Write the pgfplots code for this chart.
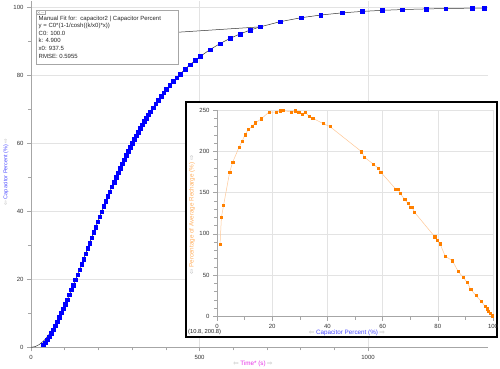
\documentclass[border=0pt]{standalone}
\usepackage{pgfplots}
\pgfplotsset{compat=1.18}
\usepackage{fontspec}
\setmainfont{Liberation Sans}
\newfontfamily\dejavu{DejaVu Sans}
\definecolor{lblblue}{RGB}{77,77,255}
\definecolor{lblorange}{RGB}{255,176,96}
\definecolor{lblmag}{RGB}{230,50,230}
\definecolor{dorange}{RGB}{255,128,0}
\definecolor{lorange}{RGB}{255,200,150}
\newcommand{\arl}{{\dejavu\color{gray!60}⇦}}
\newcommand{\arr}{{\dejavu\color{gray!60}⇨}}
\begin{document}
\begin{tikzpicture}
\useasboundingbox (0,0) rectangle (500pt,368pt);
\begin{axis}[
  at={(31pt,20.7pt)}, anchor=south west, scale only axis,
  width=457pt, height=346pt,
  xmin=0, xmax=1356, ymin=0, ymax=101.8,
  axis x line*=bottom, axis y line*=left,
  axis line style={draw=gray!70, line width=0.6pt},
  xtick={0,500,1000}, ytick={0,20,40,60,80,100},
  minor x tick num=4, minor y tick num=1,
  tick align=outside, major tick length=4pt, minor tick length=3pt,
  tick style={gray!70, line width=0.5pt},
  grid=major, major grid style={gray!22, line width=0.5pt},
  ticklabel style={font=\fontsize{6}{7}\selectfont, text=black!80},
  /pgf/number format/assume math mode=true,
  /pgf/number format/set thousands separator={},
  clip=false
]
\addplot[gray!40!black, line width=0.5pt] coordinates {
(0,0)(12,0.20)(24,0.78)(36,1.74)(42,2.36)(48,3.07)(54,3.85)(60,4.72)(66,5.67)(72,6.69)(78,7.77)
(84,8.92)(90,10.13)(96,11.39)(102,12.70)(108,14.06)(114,15.46)(120,16.89)(126,18.35)(132,19.85)(138,21.36)(144,22.89)(150,24.44)(156,25.99)(162,27.56)(168,29.12)(174,30.69)(180,32.26)(186,33.82)(192,35.37)(198,36.91)(204,38.44)(210,39.95)(216,41.45)(222,42.93)(228,44.39)(234,45.83)(240,47.24)(246,48.64)(252,50.01)(258,51.35)(264,52.67)(270,53.97)(276,55.24)(282,56.48)(288,57.69)(294,58.88)(300,60.04)(306,61.18)(312,62.29)(318,63.37)(324,64.43)(330,65.46)(336,66.46)(342,67.44)(348,68.39)(354,69.32)(362,70.52)(370,71.67)(378,72.79)(386,73.86)(394,74.90)(402,75.90)(412,77.09)(422,78.23)(432,79.31)(442,80.35)(457,81.80)(472,83.15)(487,84.41)(502,85.57)(531,87.58)(561,89.37)(591,90.91)(620,92.18)(650,93.32)(680,94.28)(739,95.80)(801,96.96)(860,97.77)(923,98.39)(982,98.82)(1042,99.14)(1101,99.37)(1172,99.56)(1231,99.68)(1309,99.79)(1353,99.83)};
\addplot[only marks, mark=square*, mark size=1.8pt, color=blue] coordinates {
(36,0.8)(42,1.4)(48,2.2)(54,3.1)(60,4.1)(66,5.2)(72,6.3)(78,7.5)(84,8.92)(90,10.13)(96,11.39)(102,12.70)(108,14.06)(114,15.46)(120,16.89)(126,18.35)(132,19.85)(138,21.36)(144,22.89)(150,24.44)(156,25.99)(162,27.56)(168,29.12)(174,30.69)(180,32.26)(186,33.82)(192,35.37)(198,36.91)(204,38.44)(210,39.95)(216,41.45)(222,42.93)(228,44.39)(234,45.83)(240,47.24)(246,48.64)(252,50.01)(258,51.35)(264,52.67)(270,53.97)(276,55.24)(282,56.48)(288,57.69)(294,58.88)(300,60.04)(306,61.18)(312,62.29)(318,63.37)(324,64.43)(330,65.46)(336,66.46)(342,67.44)(348,68.39)(354,69.32)(362,70.52)(370,71.67)(378,72.79)(386,73.86)(394,74.90)(402,75.90)(412,77.09)(422,78.23)(432,79.31)(442,80.35)(457,81.80)(472,83.15)(487,84.41)(502,85.57)(531,87.58)(561,89.37)(591,90.91)(620,92.18)(650,93.32)(680,94.28)(739,95.80)(801,96.96)(860,97.77)(923,98.39)(982,98.82)(1042,99.14)(1101,99.37)(1172,99.56)(1231,99.68)(1309,99.79)(1344,99.82)};
\draw[gray!40!black, line width=0.5pt] (axis cs:436,92.7) -- (axis cs:680,94.28);
\end{axis}
% annotation box
\draw[gray!70, fill=white, line width=0.5pt] (36pt,304pt) rectangle (178pt,358pt);
\draw[gray!70, line width=0.3pt] (36.5pt,353.5pt) rectangle (45pt,357.5pt);
\draw[gray!70, line width=0.3pt] (37.5pt,354.2pt) -- (40pt,356.8pt) (37.5pt,356.8pt) -- (40pt,354.2pt) (41pt,355.5pt) -- (44pt,355.5pt);
\node[anchor=north west, align=left, font=\fontsize{6}{7.6}\selectfont, inner sep=0pt, text=black!85] at (38.5pt,352.5pt)
 {Manual Fit for:\ \ capacitor2 | Capacitor Percent\\ y = C0*(1-1/cosh((k/x0)*x))\\ C0: 100.0\\ k: 4.900\\ x0: 937.5\\ RMSE: 0.5955};
% main axis labels
\node[font=\fontsize{6.3}{7}\selectfont] at (253pt,4.5pt) {\arl\ \textcolor{lblmag}{Time* (s)}\ \arr};
\node[font=\fontsize{5.5}{7}\selectfont, rotate=90] at (6pt,196pt) {\arl\ \textcolor{lblblue}{Capacitor Percent (\%)}\ \arr};
% inset
\draw[black, line width=1.6pt, fill=white] (186pt,31pt) rectangle (497pt,266pt);
\begin{axis}[
  at={(217pt,51.5pt)}, anchor=south west, scale only axis,
  width=276pt, height=206.9pt,
  xmin=0, xmax=100, ymin=0, ymax=250.5,
  axis x line*=bottom, axis y line*=left,
  axis line style={draw=gray!70, line width=0.6pt},
  xtick={0,20,40,60,80,100}, ytick={0,50,100,150,200,250},
  minor x tick num=1, minor y tick num=4,
  tick align=outside, major tick length=4pt, minor tick length=3pt,
  tick style={gray!70, line width=0.5pt},
  grid=major, major grid style={gray!22, line width=0.5pt},
  ticklabel style={font=\fontsize{6}{7}\selectfont, text=black!80},
  /pgf/number format/assume math mode=true,
  clip=false
]
\addplot[color=lorange, line width=0.5pt, mark=square*, mark size=1.1pt, mark options={draw=dorange, fill=dorange}] coordinates {
(1.1,87)(1.6,120)(2.4,135)(4.6,175)(5.7,187)(8.0,205)(9.1,212)(10.1,220)(11.4,226.5)(12.7,230)(14.0,234.5)(16.1,239.5)(18.8,247.5)(21.4,247.5)(22.9,249)(24.0,249.5)(26.9,247.5)(28.3,249)(29.6,247)(30.8,245)(32.0,247.5)(33.3,242.5)(34.7,240)(38.5,233.5)(40.9,230)(52.4,199.5)(53.4,193)(56.6,184.5)(58.5,179.5)(59.3,175)(64.7,154.5)(65.5,154.5)(66.3,149.5)(68.0,141.5)(69.2,137)(70.2,132)(70.7,132)(71.5,126.5)(78.9,96.5)(79.7,92)(80.8,88)(82.7,73)(85.3,67.5)(87.4,54.5)(89.2,47.5)(90.7,41)(91.9,33)(93.8,25.5)(95.7,18.5)(97.1,12.5)(97.8,9.5)(98.4,6.5)(99.0,3.5)(99.7,0.8)};
\end{axis}
\node[font=\fontsize{6.3}{7}\selectfont] at (347pt,35.5pt) {\arl\ \textcolor{lblblue}{Capacitor Percent (\%)}\ \arr};
\node[font=\fontsize{6.3}{7}\selectfont, rotate=90] at (192pt,153pt) {\arl\ \textcolor{lblorange}{Percentage of Average Recharge (\%)}\ \arr};
\node[font=\fontsize{5.8}{7}\selectfont, anchor=west, inner sep=0pt, text=black!85] at (188pt,36.5pt) {(10.8, 200.8)};
\end{tikzpicture}
\end{document}
